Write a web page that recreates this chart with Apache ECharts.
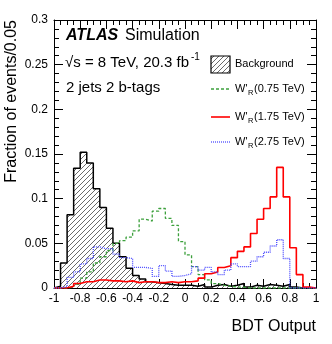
<!DOCTYPE html>
<html>
<head>
<meta charset="utf-8">
<script src="https://cdn.jsdelivr.net/npm/echarts@6/dist/echarts.min.js"></script>
<style>
    html, body { margin: 0; padding: 0; background: #fff; }
    #bdt-chart { width: 332px; height: 344px; }
</style>
</head>
<body>
<div id="bdt-chart"></div>
<script>
    // histogram binning: 40 bins of 0.05 on [-1, 1]
    var xMin = -1, xMax = 1, binWidth = 0.05;
    var xTicks = [-1, -0.8, -0.6, -0.4, -0.2, 0, 0.2, 0.4, 0.6, 0.8, 1];
    var yTicks = [0, 0.05, 0.1, 0.15, 0.2, 0.25, 0.3];

    // fraction of events per bin
    var background = [0.002, 0.028, 0.082, 0.134, 0.152, 0.140, 0.111, 0.090, 0.067, 0.050,
        0.035, 0.022, 0.014, 0.010, 0.007, 0.006, 0.005, 0.004, 0.003, 0.003,
        0.003, 0.002, 0.004, 0.001, 0.003, 0.004, 0.002, 0.003, 0.005, 0.001,
        0.003, 0.002, 0.004, 0.003, 0.002, 0.004, 0.001, 0, 0, 0];
    var wr075 = [0, 0, 0.001, 0.004, 0.011, 0.018, 0.028, 0.035, 0.042, 0.050,
        0.053, 0.057, 0.064, 0.077, 0.075, 0.086, 0.089, 0.078, 0.070, 0.052,
        0.037, 0.024, 0.015, 0.009, 0.005, 0.003, 0.002, 0.001, 0.001, 0,
        0, 0, 0, 0, 0, 0, 0, 0, 0, 0];
    var wr175 = [0, 0, 0.002, 0.005, 0.007, 0.007, 0.009, 0.009, 0.008, 0.008,
        0.007, 0.008, 0.006, 0.007, 0.007, 0.006, 0.006, 0.007, 0.006, 0.007,
        0.007, 0.008, 0.011, 0.016, 0.018, 0.023, 0.025, 0.034, 0.041, 0.046,
        0.061, 0.077, 0.089, 0.102, 0.135, 0.102, 0.045, 0.015, 0.001, 0];
    var wr275 = [0, 0.0015, 0.012, 0.018, 0.027, 0.033, 0.046, 0.044, 0.044, 0.038,
        0.034, 0.033, 0.023, 0.023, 0.022, 0.013, 0.025, 0.019, 0.013, 0.014,
        0.016, 0.024, 0.020, 0.023, 0.018, 0.015, 0.020, 0.027, 0.024, 0.024,
        0.030, 0.035, 0.040, 0.047, 0.054, 0.033, 0, 0, 0, 0];

    var font = 'Liberation Sans, Arial, Helvetica, sans-serif';
    var green = '#3ca03c', red = '#ff0000', blue = '#4d4dff';

    // hatch pattern for the background histogram
    function makeHatch() {
        var s = 5, c = document.createElement('canvas');
        c.width = s; c.height = s;
        var g = c.getContext('2d');
        g.fillStyle = '#fff';
        g.fillRect(0, 0, s, s);
        g.strokeStyle = '#444';
        g.lineWidth = 0.8;
        g.beginPath();
        g.moveTo(0, s); g.lineTo(s, 0);
        g.moveTo(-1, 1); g.lineTo(1, -1);
        g.moveTo(s - 1, s + 1); g.lineTo(s + 1, s - 1);
        g.stroke();
        return {image: c, repeat: 'repeat'};
    }
    var hatch = makeHatch();

    // left edges + closing points so the outline drops to zero at both ends
    function stepData(vals) {
        var d = [[xMin, 0]];
        for (var i = 0; i < vals.length; i++) {
            d.push([+(xMin + i * binWidth).toFixed(2), vals[i]]);
        }
        d.push([xMax, vals[vals.length - 1]]);
        d.push([xMax, 0]);
        return d;
    }

    function histSeries(vals, color, type, width, fill) {
        var s = {
            type: 'line', step: 'end', data: stepData(vals),
            symbol: 'none', showSymbol: false,
            xAxisIndex: 0, yAxisIndex: 0,
            lineStyle: {color: color, type: type, width: width},
            emphasis: {disabled: true},
            z: 3
        };
        if (fill) { s.areaStyle = {color: fill, opacity: 1}; s.z = 2; }
        return s;
    }

    function fmt(v) { return String(+v.toFixed(2)); }

    var tickLabel = {color: '#000', fontFamily: font, fontSize: 12};
    function axisBase(extra, minorSplit) {
        var a = {
            type: 'value',
            axisLine: {show: true, onZero: false, lineStyle: {color: '#000', width: 1}},
            axisTick: {show: true, inside: true, length: 9, lineStyle: {color: '#000'}},
            minorTick: {show: true, splitNumber: minorSplit, length: 5, lineStyle: {color: '#000'}},
            splitLine: {show: false}
        };
        for (var k in extra) a[k] = extra[k];
        return a;
    }

    var xOpt = {min: xMin, max: xMax, interval: 0.2};
    var yOpt = {min: yTicks[0], max: yTicks[yTicks.length - 1], interval: 0.05};

    var legendY = [64, 89, 117, 142];
    var legendEntries = [
        {label: '0.75 TeV', color: green, type: [3, 2], width: 1.3},
        {label: '1.75 TeV', color: red, type: 'solid', width: 1.6},
        {label: '2.75 TeV', color: blue, type: [1, 1], width: 1.3}
    ];

    var graphics = [
        {type: 'text', left: 66, top: 28, style: {text: 'ATLAS', font: 'italic bold 16px ' + font, fill: '#000'}},
        {type: 'text', left: 125, top: 28, style: {text: 'Simulation', font: '16px ' + font, fill: '#000'}},
        {type: 'text', left: 65, top: 55, style: {text: '\u221As = 8 TeV, 20.3 fb', font: '15px ' + font, fill: '#000'}},
        {type: 'text', left: 191, top: 52, style: {text: '-1', font: '10px ' + font, fill: '#000'}},
        {type: 'text', left: 66, top: 80, style: {text: '2 jets 2 b-tags', font: '15px ' + font, fill: '#000'}},
        {type: 'rect', shape: {x: 211, y: 56, width: 19, height: 17},
            style: {fill: hatch, stroke: '#000', lineWidth: 1.2}},
        {type: 'text', x: 235, y: legendY[0], style: {text: 'Background', font: '11px ' + font, fill: '#000', verticalAlign: 'middle'}},
        {type: 'text', x: 12, y: 20, rotation: Math.PI / 2,
            style: {text: 'Fraction of events/0.05', font: '16px ' + font, fill: '#000', align: 'right', verticalAlign: 'middle'}},
        {type: 'text', x: 316, y: 327,
            style: {text: 'BDT Output', font: '16px ' + font, fill: '#000', align: 'right', verticalAlign: 'middle'}}
    ];
    legendEntries.forEach(function (e, i) {
        var y = legendY[i + 1];
        graphics.push({type: 'line', shape: {x1: 211, y1: y, x2: 230, y2: y},
            style: {stroke: e.color, lineWidth: e.width, lineDash: e.type === 'solid' ? null : e.type}});
        graphics.push({type: 'text', x: 235, y: y, style: {text: "W'", font: '11px ' + font, fill: '#000', verticalAlign: 'middle'}});
        graphics.push({type: 'text', x: 248, y: y + 4, style: {text: 'R', font: '7.5px ' + font, fill: '#000', verticalAlign: 'middle'}});
        graphics.push({type: 'text', x: 254, y: y, style: {text: '(' + e.label + ')', font: '11px ' + font, fill: '#000', verticalAlign: 'middle'}});
    });

    var chart = echarts.init(document.getElementById('bdt-chart'), null, {renderer: 'canvas'});
    chart.setOption({
        animation: false,
        backgroundColor: '#fff',
        grid: {left: 54, right: 16, top: 20, bottom: 56},
        xAxis: [
            axisBase(Object.assign({position: 'bottom',
                axisLabel: Object.assign({margin: 5, formatter: fmt, customValues: xTicks}, tickLabel)}, xOpt), 4),
            axisBase(Object.assign({position: 'top', axisLabel: {show: false}}, xOpt), 4)
        ],
        yAxis: [
            axisBase(Object.assign({position: 'left',
                axisLabel: Object.assign({margin: 6, formatter: fmt}, tickLabel)}, yOpt), 5),
            axisBase(Object.assign({position: 'right', axisLabel: {show: false}}, yOpt), 5)
        ],
        series: [
            histSeries(background, '#000', 'solid', 1.5, hatch),
            histSeries(wr075, green, [3, 2], 1.3),
            histSeries(wr175, red, 'solid', 1.6),
            histSeries(wr275, blue, [1, 1], 1.3)
        ],
        graphic: graphics
    });
</script>
</body>
</html>
